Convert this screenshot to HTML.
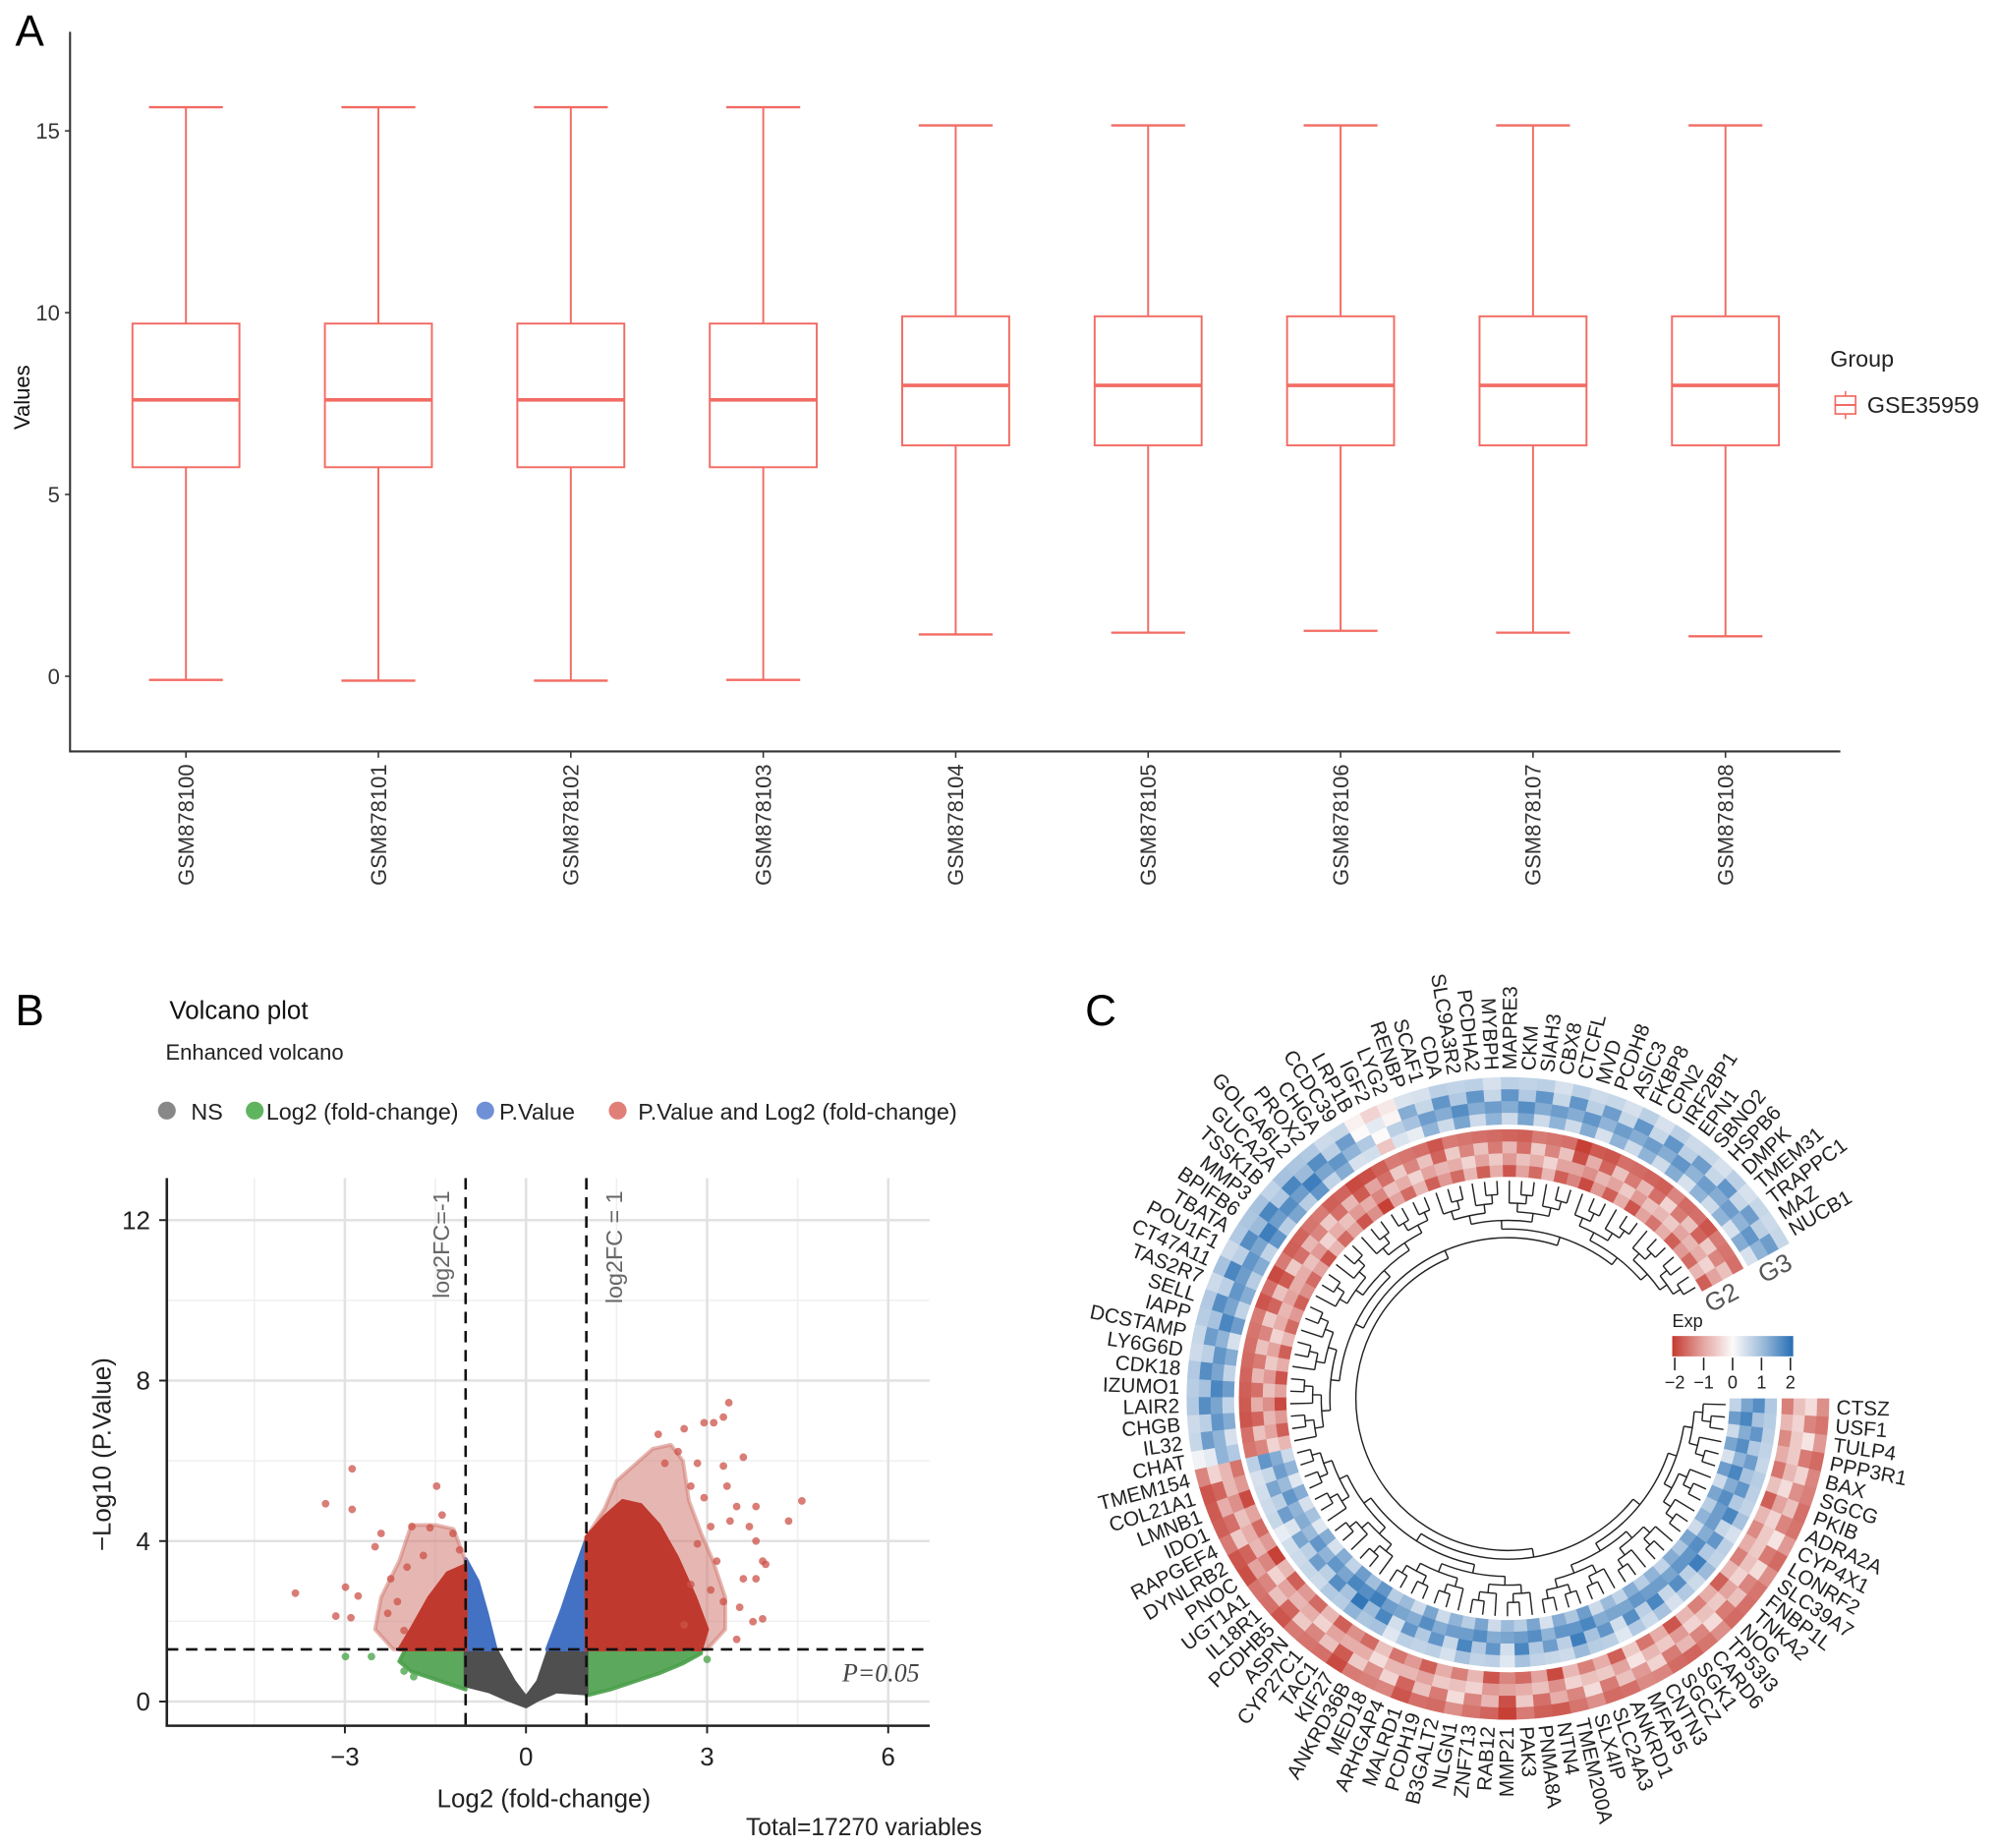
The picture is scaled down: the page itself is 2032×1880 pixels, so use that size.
<!DOCTYPE html>
<html><head><meta charset="utf-8"><style>
html,body{margin:0;padding:0;background:#fff;}
svg{display:block;font-family:"Liberation Sans",Arial,sans-serif;}
</style></head><body>
<svg id="fig" width="2032" height="1880" viewBox="0 0 1568 1451" preserveAspectRatio="none" xmlns="http://www.w3.org/2000/svg">
<g id="pA"></g>
<g id="pB"></g>
<g id="pC"></g>
</svg>
<script>
// ---------- Panel A data ----------
const samples = ["GSM878100","GSM878101","GSM878102","GSM878103","GSM878104","GSM878105","GSM878106","GSM878107","GSM878108"];
const boxMax = [15.65,15.65,15.65,15.65,15.15,15.15,15.15,15.15,15.15];
const boxQ3 = [9.7,9.7,9.7,9.7,9.9,9.9,9.9,9.9,9.9];
const boxMed = [7.6,7.6,7.6,7.6,8.0,8.0,8.0,8.0,8.0];
const boxQ1 = [5.75,5.75,5.75,5.75,6.35,6.35,6.35,6.35,6.35];
const boxMin = [-0.1,-0.12,-0.12,-0.1,1.15,1.2,1.25,1.2,1.1];
const aTicks = [0,5,10,15];

// ---------- Panel B data ----------
const vTicksX = [-3,0,3,6];
const vTicksY = [0,4,8,12];
const redPtsX = [-3.82,-3.32,-2.88,-2.88,-2.99,-3.15,-2.78,-2.9,-2.4,-2.5,-1.48,-1.39,-1.89,-1.59,-1.21,-2.24,-2.13,-1.97,-1.7,-1.1,-2.29,-2.02,
 3.36,3.27,3.11,2.95,2.62,2.19,3.6,3.27,4.57,4.35,3.81,3.49,3.33,3.38,3.7,3.81,3.92,3.97,3.81,3.6,3.92,3.76,3.49,3.54,3.16,2.84,3.06,2.73,2.52,2.3,2.84,2.95,3.06,3.27,2.62,2.73];
const redPtsY = [2.7,4.93,5.8,4.79,2.85,2.13,2.63,2.09,4.19,3.86,5.37,4.65,4.36,4.33,4.19,3.06,2.49,3.35,3.64,3.78,2.2,1.77,
 7.45,7.09,6.95,6.95,6.8,6.66,6.09,5.87,5.0,4.5,4.86,4.86,5.37,4.5,4.36,4.0,3.5,3.42,3.06,3.06,2.06,1.99,1.55,2.35,3.5,3.93,4.36,5.37,6.23,5.94,5.94,5.08,2.78,2.49,1.91,2.92];
const greenPtsX = [-2.99,-2.56,-2.02,-1.86,3.0,2.68];
const greenPtsY = [1.12,1.12,0.76,0.62,1.05,1.19];
const redHaloR = [[1,1.3],[1,4.1],[1.3,4.8],[1.5,5.5],[1.8,5.9],[2.1,6.3],[2.4,6.4],[2.6,6.0],[2.7,5.0],[2.9,4.2],[3.1,3.5],[3.3,2.6],[3.3,1.8],[3.0,1.3]];
const redCoreR = [[1,1.3],[1,4.1],[1.3,4.6],[1.6,5.0],[1.9,4.9],[2.2,4.4],[2.5,3.6],[2.8,2.6],[3.0,1.8],[2.9,1.3]];
const redHaloL = [[-1,1.3],[-1,3.5],[-1.2,4.3],[-1.5,4.4],[-1.9,4.4],[-2.1,3.5],[-2.4,2.6],[-2.5,1.8],[-2.2,1.3]];
const redCoreL = [[-1,1.3],[-1,3.4],[-1.3,3.2],[-1.6,2.6],[-1.9,1.8],[-2.1,1.3]];
const blueL = [[-1,1.3],[-1,3.55],[-0.8,3.0],[-0.65,2.2],[-0.5,1.3]];
const blueR = [[0.35,1.3],[0.6,2.3],[0.8,3.2],[1,4.05],[1,1.3]];
const grayNS = [[-1,1.3],[-0.5,1.3],[-0.2,0.5],[0,0.1],[0.2,0.5],[0.38,1.3],[1,1.3],[1,0.2],[0.5,0.25],[0.2,0.05],[0,-0.12],[-0.3,0.05],[-0.6,0.25],[-1,0.4]];
const greenL = [[-1,1.3],[-1,0.3],[-1.3,0.45],[-1.6,0.6],[-1.9,0.75],[-2.1,1.0],[-2.0,1.3]];
const greenR = [[1,1.3],[1,0.15],[1.4,0.3],[1.8,0.5],[2.2,0.7],[2.6,0.95],[2.9,1.2],[2.9,1.3]];

// ---------- Panel C data ----------
const genes = ["CTSZ","USF1","TULP4","PPP3R1","BAX","SGCG","PKIB","ADRA2A","CYP4X1","LONRF2","SLC39A7","FNBP1L","TNKA2","NOG","TP53I3","CARD6","SGK1","SGCZ","CNTN3","MFAP5","ANKRD1","SLC24A3","SLX4IP","TMEM200A","NTN4","PNMA8A","PAK3","MMP21","RAB12","ZNF713","NLGN1","B3GALT2","PCDH19","MALRD1","ARHGAP4","MED18","ANKRD36B","KIF27","TAC1","CYP27C1","ASPN","PCDHB5","IL18R1","UGT1A1","PNOC","DYNLRB2","RAPGEF4","IDO1","LMNB1","COL21A1","TMEM154",
"CHAT","IL32","CHGB","LAIR2","IZUMO1","CDK18","LY6G6D","DCSTAMP","IAPP","SELL","TAS2R7","CT47A11","POU1F1","TBATA","BPIFB6","MMP3","TSSK1B","GUCA2A","GOLGA6L2","PROX2","CHGA","CCDC39","LRP1B","IGF2","LYG2","RENBP","SCAF1","CDA","SLC9A3R2","PCDHA2","MYBPH","MAPRE3","CKM","SIAH3","CBX8","CTCFL","MVD","PCDH8","ASIC3","FKBP8","CPN2","IRF2BP1","EPN1","SBNO2","HSPB6","DMPK","TMEM31","TRAPPC1","MAZ","NUCB1"];
const g3Vals = [-0.9,-1.0,-0.8,-1.1,-1.0,-0.9,-1.2,-1.0,-0.8,-1.1,-0.9,-1.0,-1.2,-1.1,-0.9,-1.0,-1.3,-1.1,-1.0,-0.8,-1.2,-1.1,-0.9,-1.0,-1.4,-1.2,-1.1,-1.5,-1.3,-1.0,-0.9,-1.1,-1.2,-1.3,-1.0,-0.9,-1.1,-1.4,-1.2,-1.0,-1.1,-1.3,-1.2,-1.0,-1.5,-1.3,-1.1,-1.2,-1.4,-1.3,-1.0,
 0.6,0.9,1.0,1.1,1.2,1.1,1.0,0.9,1.2,1.1,1.0,1.2,1.0,1.1,1.3,1.2,1.1,1.2,1.3,1.1,1.0,0.9,0.3,-0.2,0.2,0.7,0.9,1.0,1.1,1.0,0.9,1.0,1.1,1.0,0.9,1.0,1.0,0.9,0.9,1.0,0.9,1.0,1.0,0.9,0.9,1.0,0.9,0.9,1.0,0.9];
const g2Vals = [1.1,1.2,1.0,1.1,0.9,1.2,1.0,1.1,1.2,0.9,1.0,1.1,1.3,1.0,1.1,0.9,1.2,1.0,1.1,0.8,1.0,1.2,1.3,1.0,0.9,1.1,1.2,0.8,1.0,1.1,1.2,0.9,1.0,1.1,1.0,0.8,1.2,1.3,1.4,1.2,1.1,1.0,0.9,1.0,0.8,0.7,0.9,1.0,0.8,0.9,1.0,
 -1.0,-1.2,-1.3,-1.4,-1.2,-1.3,-1.1,-1.2,-1.0,-1.1,-1.3,-1.2,-1.4,-1.1,-1.2,-1.3,-1.0,-1.1,-1.2,-1.3,-1.4,-1.5,-1.2,-1.1,-1.0,-1.2,-1.3,-1.1,-1.0,-1.2,-1.1,-1.3,-1.2,-1.1,-1.0,-1.2,-1.5,-1.4,-1.3,-1.2,-1.1,-1.3,-1.2,-1.0,-1.1,-1.2,-1.3,-1.1,-1.0,-1.2];
const rowShift = [-0.45,0.2,0.5,-0.3];

const NS = "http://www.w3.org/2000/svg";
function mk(parent, tag, attrs, text){
  const e = document.createElementNS(NS, tag);
  for (const k in attrs) e.setAttribute(k, attrs[k]);
  if (text !== undefined) e.textContent = text;
  parent.appendChild(e);
  return e;
}

// ================= Panel A =================
(function(){
  const g = document.getElementById('pA');
  const yA = v => 531 - v * 28.55;
  const xA = i => 146 + i * 151.1;
  const t = mk(g,'text',{x:12,y:36,'font-size':34,fill:'#000'},'A');
   
  const ax = mk(g,'path',{d:'M55,25 V590 H1445',fill:'none',stroke:'#333','stroke-width':1.6});
   
  aTicks.forEach(v=>{
    const tk = mk(g,'line',{x1:51,x2:55,y1:yA(v),y2:yA(v),stroke:'#333','stroke-width':1.2});
     
    const tl = mk(g,'text',{x:47,y:yA(v)+6,'font-size':17,'text-anchor':'end',fill:'#333'},String(v));
     
  });
  const yt = mk(g,'text',{x:0,y:0,'font-size':17,'text-anchor':'middle',fill:'#111',transform:'translate(23,312) rotate(-90)'},'Values');
   
  const col = '#F26B63';
  samples.forEach((s,i)=>{
    const cx = xA(i), hw = 42;
    const bg = mk(g,'g',{});
     
    mk(bg,'line',{x1:cx,x2:cx,y1:yA(boxMax[i]),y2:yA(boxQ3[i]),stroke:col,'stroke-width':1.5});
    mk(bg,'line',{x1:cx,x2:cx,y1:yA(boxQ1[i]),y2:yA(boxMin[i]),stroke:col,'stroke-width':1.5});
    mk(bg,'line',{x1:cx-29,x2:cx+29,y1:yA(boxMax[i]),y2:yA(boxMax[i]),stroke:col,'stroke-width':1.8});
    mk(bg,'line',{x1:cx-29,x2:cx+29,y1:yA(boxMin[i]),y2:yA(boxMin[i]),stroke:col,'stroke-width':1.8});
    mk(bg,'rect',{x:cx-hw,y:yA(boxQ3[i]),width:2*hw,height:yA(boxQ1[i])-yA(boxQ3[i]),fill:'#fff',stroke:col,'stroke-width':1.5});
    mk(bg,'line',{x1:cx-hw,x2:cx+hw,y1:yA(boxMed[i]),y2:yA(boxMed[i]),stroke:col,'stroke-width':2.8});
    mk(g,'line',{x1:cx,x2:cx,y1:590,y2:595,stroke:'#333','stroke-width':1.2});
    const xl = mk(g,'text',{x:0,y:0,'font-size':17,'text-anchor':'end',fill:'#333',transform:`translate(${cx+6},600) rotate(-90)`},s);
     
  });
  const lg = mk(g,'g',{});
   
  mk(lg,'text',{x:1437,y:288,'font-size':18,fill:'#222'},'Group');
  mk(lg,'line',{x1:1449,x2:1449,y1:307,y2:329,stroke:col,'stroke-width':1.2});
  mk(lg,'rect',{x:1441,y:311,width:16,height:14,fill:'#fff',stroke:col,'stroke-width':1.3});
  mk(lg,'line',{x1:1441,x2:1457,y1:318,y2:318,stroke:col,'stroke-width':1.5});
  mk(lg,'text',{x:1466,y:324,'font-size':18,fill:'#222'},'GSE35959');
})();

// ================= Panel B =================
(function(){
  const g = document.getElementById('pB');
  const xV = v => 413 + v * 47.4;
  const yV = v => 1336 - v * 31.5;
  const L=131, R=730, T=925, B=1355;
  const lbl = mk(g,'text',{x:12,y:805,'font-size':34,fill:'#000'},'B');
   
  const ti = mk(g,'text',{x:133,y:800,'font-size':20,fill:'#111'},'Volcano plot');
   
  const st = mk(g,'text',{x:130,y:832,'font-size':17,fill:'#222'},'Enhanced volcano');
   
  const legItems = [['#888',131,'NS',150],['#5fb55f',200,'Log2 (fold-change)',209],['#6f8fd6',381,'P.Value',392],['#e07f78',485,'P.Value and Log2 (fold-change)',501]];
  legItems.forEach(it=>{
    const lgi = mk(g,'g',{});
     
    mk(lgi,'circle',{cx:it[1],cy:872,r:7,fill:it[0]});
    mk(lgi,'text',{x:it[3],y:879,'font-size':18,fill:'#222'},it[2]);
  });
  const grid = mk(g,'g',{});
   
  [-4.5,-1.5,1.5,4.5].forEach(v=>mk(grid,'line',{x1:xV(v),x2:xV(v),y1:T,y2:B,stroke:'#efefef','stroke-width':1.2}));
  [2,6,10].forEach(v=>mk(grid,'line',{x1:L,x2:R,y1:yV(v),y2:yV(v),stroke:'#efefef','stroke-width':1.2}));
  vTicksX.forEach(v=>mk(grid,'line',{x1:xV(v),x2:xV(v),y1:T,y2:B,stroke:'#e2e2e2','stroke-width':2}));
  vTicksY.forEach(v=>mk(grid,'line',{x1:L,x2:R,y1:yV(v),y2:yV(v),stroke:'#e2e2e2','stroke-width':2}));
  const poly = (pts, fill, op, name) => {
    const p = mk(g,'polygon',{points:pts.map(q=>xV(q[0])+','+yV(q[1])).join(' '),fill:fill,'fill-opacity':op,stroke:fill,'stroke-width':3,'stroke-linejoin':'round','stroke-opacity':op});
     
  };
  poly(greenL,'#4a9e4a',0.9,'green-region-left');
  poly(greenR,'#4a9e4a',0.9,'green-region-right');
  poly(grayNS,'#4f4f4f',1,'ns-region');
  poly(blueL,'#4371c4',1,'blue-region-left');
  poly(blueR,'#4371c4',1,'blue-region-right');
  poly(redHaloL,'#d27b73',0.55,'red-halo-left');
  poly(redHaloR,'#d27b73',0.55,'red-halo-right');
  poly(redCoreL,'#c0392e',1,'red-core-left');
  poly(redCoreR,'#c0392e',1,'red-core-right');
  redPtsX.forEach((x,i)=>{
    const c = mk(g,'circle',{cx:xV(x),cy:yV(redPtsY[i]),r:3,fill:'#cc5248','fill-opacity':0.75});
     
  });
  greenPtsX.forEach((x,i)=>{
    const c = mk(g,'circle',{cx:xV(x),cy:yV(greenPtsY[i]),r:3,fill:'#5aaa5a','fill-opacity':0.85});
     
  });
  [-1,1].forEach(v=>{
    const l = mk(g,'line',{x1:xV(v),x2:xV(v),y1:T,y2:B,stroke:'#111','stroke-width':2,'stroke-dasharray':'9,6'});
     
  });
  const hl = mk(g,'line',{x1:L,x2:R,y1:yV(1.3),y2:yV(1.3),stroke:'#111','stroke-width':2,'stroke-dasharray':'9,6'});
   
  const fl1 = mk(g,'text',{x:0,y:0,'font-size':18,fill:'#666','text-anchor':'end',transform:`translate(${xV(-1)-13},935) rotate(-90)`},'log2FC=-1');
   
  const fl2 = mk(g,'text',{x:0,y:0,'font-size':18,fill:'#666','text-anchor':'end',transform:`translate(${xV(1)+28},935) rotate(-90)`},'log2FC = 1');
   
  const pl = mk(g,'text',{x:722,y:1320,'font-size':20,'font-style':'italic','font-family':'"Liberation Serif",serif',fill:'#444','text-anchor':'end'},'P=0.05');
   
  const ax = mk(g,'path',{d:`M${L},${T} V${B} H${R}`,fill:'none',stroke:'#222','stroke-width':2});
   
  vTicksX.forEach(v=>{
    mk(g,'line',{x1:xV(v),x2:xV(v),y1:B,y2:B+6,stroke:'#222','stroke-width':1.5});
    const t = mk(g,'text',{x:xV(v),y:1386,'font-size':20,'text-anchor':'middle',fill:'#222'},v<0?'\u2212'+Math.abs(v):String(v));
     
  });
  vTicksY.forEach(v=>{
    mk(g,'line',{x1:L-6,x2:L,y1:yV(v),y2:yV(v),stroke:'#222','stroke-width':1.5});
    const t = mk(g,'text',{x:118,y:yV(v)+7,'font-size':20,'text-anchor':'end',fill:'#222'},String(v));
     
  });
  const xt = mk(g,'text',{x:427,y:1419,'font-size':20,'text-anchor':'middle',fill:'#222'},'Log2 (fold-change)');
   
  const yt = mk(g,'text',{x:0,y:0,'font-size':20,'text-anchor':'middle',fill:'#222',transform:'translate(87,1142) rotate(-90)'},'\u2212Log10 (P.Value)');
   
  const tot = mk(g,'text',{x:771,y:1441,'font-size':19,'text-anchor':'end',fill:'#222'},'Total=17270 variables');
   
})();

// ================= Panel C =================
(function(){
  const g = document.getElementById('pC');
  const CX=1184, CY=1098;
  const n = genes.length;
  const A0 = 0, A1 = 331;
  const step = (A1-A0)/n;
  const ang = i => A0 + (i+0.5)*step;
  const rad = d => d*Math.PI/180;
  const pt = (r,a) => [CX + r*Math.cos(rad(a)), CY + r*Math.sin(rad(a))];
  function sector(r1,r2,a1,a2){
    const p1=pt(r2,a1), p2=pt(r2,a2), p3=pt(r1,a2), p4=pt(r1,a1);
    const lg = (a2-a1)>180?1:0;
    return `M${p1[0]},${p1[1]} A${r2},${r2} 0 ${lg} 1 ${p2[0]},${p2[1]} L${p3[0]},${p3[1]} A${r1},${r1} 0 ${lg} 0 ${p4[0]},${p4[1]} Z`;
  }
  function color(v){
    v=Math.max(-2,Math.min(2,v));
    const red=[196,58,48], blue=[38,110,180], w=[252,250,250];
    let c, t;
    if(v<0){t=-v/2;c=red;}else{t=v/2;c=blue;}
    t = Math.pow(t,1.15);
    return 'rgb('+[0,1,2].map(k=>Math.round(w[k]+(c[k]-w[k])*t)).join(',')+')';
  }
  const lbl = mk(g,'text',{x:852,y:805,'font-size':34,fill:'#000'},'C');
   
  const rings = [{vals:g3Vals,ro:252,ri:215,name:'g3-ring'},{vals:g2Vals,ro:211,ri:174,name:'g2-ring'}];
  rings.forEach(rg=>{
    const rgG = mk(g,'g',{});
     
    const rw = (rg.ro-rg.ri)/rowShift.length;
    rg.vals.forEach((v,i)=>{
      rowShift.forEach((s,r)=>{
        const sh = (i%2===0)? s : rowShift[(r+1)%rowShift.length];
        const c = mk(rgG,'path',{d:sector(rg.ri+r*rw, rg.ri+(r+1)*rw+0.3, A0+i*step, A0+(i+1)*step+0.15), fill:color(v+sh)});
         
      });
    });
  });
  genes.forEach((name,i)=>{
    const a = ang(i);
    const right = Math.cos(rad(a))>=0;
    const t = mk(g,'text',{x:right?258:-258,y:0,'font-size':16,'dominant-baseline':'central','text-anchor':right?'start':'end',fill:'#222',
      transform:`translate(${CX},${CY}) rotate(${right?a:a+180})`},name);
     
  });
  const dg = mk(g,'g',{fill:'none',stroke:'#222','stroke-width':1.1});
   
  const LEAF=171, DH=6.8;
  function build(lo,hi){
    if(hi-lo===1) return {a:ang(lo), h:0};
    const mid = (lo===0 && hi===n) ? 51 : Math.floor((lo+hi)/2);
    const c1=build(lo,mid), c2=build(mid,hi);
    const h = Math.max(c1.h,c2.h)+1;
    return {a:(c1.a+c2.a)/2, h:h, kids:[c1,c2]};
  }
  const root = build(0,n);
  const rOf = h => h===0 ? LEAF : LEAF-4-h*DH;
  function draw(node){
    if(!node.kids) return;
    const r = rOf(node.h);
    node.kids.forEach(k=>{
      const p1=pt(rOf(k.h),k.a), p2=pt(r,k.a);
      mk(dg,'line',{x1:p1[0],y1:p1[1],x2:p2[0],y2:p2[1]});
      draw(k);
    });
    const a1=node.kids[0].a, a2=node.kids[1].a;
    const q1=pt(r,a1), q2=pt(r,a2);
    mk(dg,'path',{d:`M${q1[0]},${q1[1]} A${r},${r} 0 ${(a2-a1)>180?1:0} 1 ${q2[0]},${q2[1]}`});
  }
  draw(root);
  const g2 = mk(g,'text',{x:0,y:0,'font-size':20,fill:'#555',transform:'translate(1343,1031) rotate(-28)'},'G2');
   
  const g3 = mk(g,'text',{x:0,y:0,'font-size':20,fill:'#555',transform:'translate(1385,1008) rotate(-28)'},'G3');
   
  const lgG = mk(g,'g',{});
   
  const defs = mk(lgG,'defs',{});
  const grad = mk(defs,'linearGradient',{id:'expg',x1:0,x2:1,y1:0,y2:0});
  [-2,-1,0,1,2].forEach((v,k)=>mk(grad,'stop',{offset:(k*25)+'%','stop-color':color(v)}));
  mk(lgG,'text',{x:1313,y:1042,'font-size':14,fill:'#222'},'Exp');
  mk(lgG,'rect',{x:1313,y:1049,width:95,height:16,fill:'url(#expg)'});
  [-2,-1,0,1,2].forEach((v,k)=>{
    const x = 1315 + k*22.7;
    mk(lgG,'line',{x1:x,x2:x,y1:1066,y2:1076,stroke:'#222','stroke-width':1.2});
    mk(lgG,'text',{x:x,y:1090,'font-size':14,'text-anchor':'middle',fill:'#222'},v<0?'\u2212'+Math.abs(v):String(v));
  });
})();
</script>
</body></html>
